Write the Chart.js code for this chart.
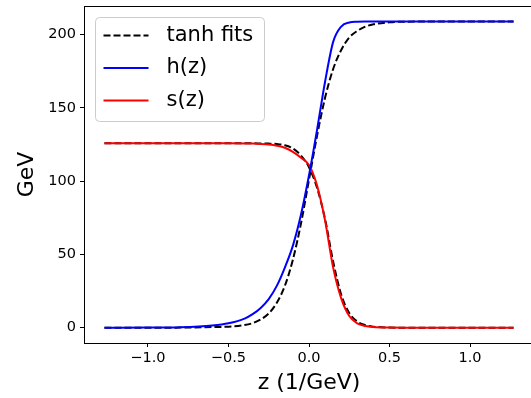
<!DOCTYPE html>
<html>
<head>
<meta charset="utf-8">
<script src="https://cdn.jsdelivr.net/npm/chart.js@4"></script>
<style>
  html, body { margin: 0; padding: 0; background: #fff; overflow: hidden; }
  #wrap { width: 531px; height: 398px; overflow: hidden; }
  canvas { display: block; }
</style>
</head>
<body>
<div id="wrap"><canvas id="profileChart" width="540" height="398" style="width:540px;height:398px"></canvas></div>
<script>
// z grid (1/GeV) and the sampled profiles
const zValues = [-1.27, -1.0, -0.8, -0.6, -0.5, -0.4, -0.35, -0.3, -0.25, -0.2, -0.15, -0.1, -0.05,
                 0.0, 0.05, 0.1, 0.15, 0.2, 0.25, 0.3, 0.35, 0.4, 0.5, 0.6, 0.8, 1.0, 1.27];
const hValues = [0, 0.05, 0.3, 1.5, 3.0, 6.2, 9.2, 13.5, 19.5, 28.5, 41, 56, 77,
                 104, 135, 168, 195, 205.5, 208.3, 208.8, 209, 209, 209, 209, 209, 209, 209];
const sValues = [125.8, 125.8, 125.8, 125.8, 125.8, 125.7, 125.6, 125.4, 125.0, 124.2, 122.8, 120, 116,
                 111, 97, 73, 41, 20, 8, 3, 1.2, 0.5, 0.1, 0, 0, 0, 0];
const hFitValues = [0, 0, 0.05, 0.4, 0.7, 1.8, 3.1, 5.6, 9.7, 17, 28.5, 46.5, 71,
                    101, 131, 157, 176.5, 189.5, 198, 202.5, 205.4, 207, 208.4, 208.8, 209, 209, 209];
const sFitValues = [125.8, 125.8, 125.8, 125.8, 125.8, 125.8, 125.8, 125.7, 125.6, 125.3, 124.5, 122.3, 117.5,
                    109.5, 95.5, 74, 45, 22.5, 10, 4.2, 1.7, 0.7, 0.1, 0, 0, 0, 0];

const xTicks = [-1.0, -0.5, 0.0, 0.5, 1.0];
const yTicks = [0, 50, 100, 150, 200];

const toPoints = vals => zValues.map((z, i) => ({ x: z, y: vals[i] }));
const fmtTick = v => v.toFixed(1).replace('-', '\u2212');

const FONT = 'DejaVu Sans';

// keep the plot box where it is; no extra room for edge labels
const noEdgePadding = s => {
  s.paddingTop = 0;
  s.paddingBottom = 0;
  s.paddingLeft = 0;
  s.paddingRight = 0;
};

// matplotlib-style boxed legend plus the top/right spines
const boxLegend = {
  id: 'boxLegend',
  afterDraw(chart) {
    const ctx = chart.ctx;
    const { left, top, right, bottom } = chart.chartArea;

    ctx.save();
    ctx.strokeStyle = '#000';
    ctx.lineWidth = 1;
    ctx.beginPath();
    ctx.moveTo(left, top + 0.5);
    ctx.lineTo(right, top + 0.5);
    ctx.lineTo(right, bottom);
    ctx.stroke();

    const x0 = left + 11.5, y0 = top + 11.5, w = 169, h = 104;
    ctx.beginPath();
    ctx.roundRect(x0, y0, w, h, 4);
    ctx.fillStyle = 'rgba(255,255,255,0.8)';
    ctx.fill();
    ctx.strokeStyle = '#cccccc';
    ctx.stroke();

    const items = chart.data.datasets
      .filter(d => d.legendRow !== undefined)
      .sort((a, b) => a.legendRow - b.legendRow);
    ctx.font = '21px "' + FONT + '"';
    ctx.textBaseline = 'middle';
    ctx.fillStyle = '#000';
    items.forEach((d, i) => {
      const y = y0 + 18 + i * 32.5;
      ctx.beginPath();
      ctx.setLineDash(d.borderDash || []);
      ctx.strokeStyle = d.borderColor;
      ctx.lineWidth = d.borderWidth;
      ctx.moveTo(x0 + 8, y);
      ctx.lineTo(x0 + 53, y);
      ctx.stroke();
      ctx.setLineDash([]);
      ctx.fillText(d.label, x0 + 71, y);
    });
    ctx.restore();
  }
};

const ctx = document.getElementById('profileChart').getContext('2d');
new Chart(ctx, {
  type: 'line',
  data: {
    datasets: [
      { label: 'h(z)', data: toPoints(hValues), borderColor: '#0000ff', borderWidth: 2, legendRow: 1 },
      { label: 's(z)', data: toPoints(sValues), borderColor: '#ff0000', borderWidth: 2, legendRow: 2 },
      { label: 'tanh fits', data: toPoints(hFitValues), borderColor: '#000000', borderWidth: 2,
        borderDash: [7, 3], legendRow: 0 },
      { label: 'tanh fit s', data: toPoints(sFitValues), borderColor: '#000000', borderWidth: 2,
        borderDash: [7, 3] }
    ]
  },
  options: {
    responsive: false,
    animation: false,
    layout: { padding: { top: 6, right: 6, left: 0, bottom: 0 } },
    elements: {
      point: { radius: 0 },
      line: { cubicInterpolationMode: 'monotone', fill: false }
    },
    plugins: {
      legend: { display: false },
      tooltip: { enabled: false }
    },
    scales: {
      x: {
        type: 'linear',
        min: -1.397,
        max: 1.397,
        afterBuildTicks: s => { s.ticks = xTicks.map(v => ({ value: v })); },
        afterFit: s => { s.height = 55; noEdgePadding(s); },
        grid: { drawOnChartArea: false, drawTicks: true, tickLength: 4, tickColor: '#000', tickWidth: 1 },
        border: { display: true, color: '#000', width: 1 },
        ticks: {
          color: '#000',
          font: { family: FONT, size: 14.5 },
          padding: 3,
          maxRotation: 0,
          callback: v => fmtTick(v)
        },
        title: {
          display: true,
          text: 'z (1/GeV)',
          color: '#000',
          font: { family: FONT, size: 22 },
          padding: { top: 0, bottom: 2 }
        }
      },
      y: {
        type: 'linear',
        min: -10.45,
        max: 219.5,
        afterBuildTicks: s => { s.ticks = yTicks.map(v => ({ value: v })); },
        afterFit: s => { s.width = 84; noEdgePadding(s); },
        grid: { drawOnChartArea: false, drawTicks: true, tickLength: 4, tickColor: '#000', tickWidth: 1 },
        border: { display: true, color: '#000', width: 1 },
        ticks: {
          color: '#000',
          font: { family: FONT, size: 14.5 },
          padding: 4,
          callback: v => String(v)
        },
        title: {
          display: true,
          text: 'GeV',
          color: '#000',
          font: { family: FONT, size: 22 },
          padding: { top: 14, bottom: 0 }
        }
      }
    }
  },
  plugins: [boxLegend]
});
</script>
</body>
</html>
